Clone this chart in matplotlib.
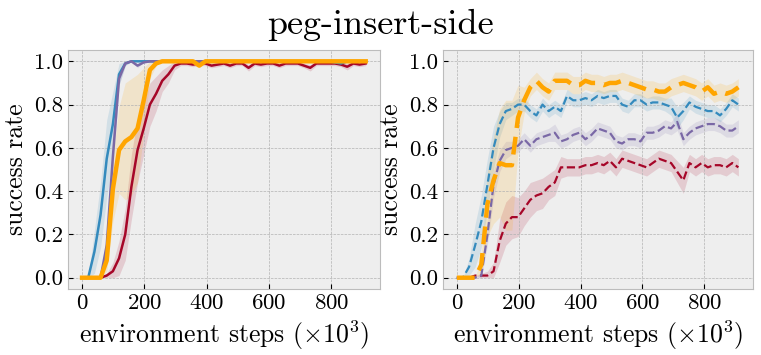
import numpy as np
import matplotlib
matplotlib.use("Agg")
import matplotlib.pyplot as plt

# environment steps (x1e3), 47 evaluation points
steps = np.linspace(0, 910, 47)

# --- left panel: solid curves (mean, std) ---
left_blue = [0, 0, 0.12, 0.29, 0.55, 0.71, 0.94, 0.99, 1.0, 1.0,
             1.0, 1.0, 1.0, 1.0, 1.0, 1.0, 1.0, 1.0, 1.0, 1.0,
             1.0, 1.0, 1.0, 1.0, 1.0, 1.0, 1.0, 1.0, 1.0, 1.0,
             1.0, 1.0, 1.0, 1.0, 1.0, 1.0, 1.0, 1.0, 1.0, 1.0,
             1.0, 0.995, 0.99, 1.0, 1.0, 1.0, 1.0]
left_blue_std = [0, 0, 0.1, 0.15, 0.18, 0.15, 0.05, 0.01, 0, 0,
                 0, 0, 0, 0, 0, 0, 0, 0, 0, 0,
                 0, 0, 0, 0, 0, 0, 0, 0, 0, 0,
                 0, 0, 0, 0, 0, 0, 0, 0, 0, 0,
                 0, 0.005, 0.01, 0, 0, 0, 0]
left_purple = [0, 0, 0, 0, 0.15, 0.56, 0.92, 0.99, 1.0, 0.98,
               0.995, 1.0, 1.0, 1.0, 1.0, 1.0, 1.0, 1.0, 1.0, 1.0,
               1.0, 1.0, 1.0, 1.0, 1.0, 1.0, 1.0, 1.0, 1.0, 1.0,
               1.0, 1.0, 1.0, 1.0, 1.0, 1.0, 1.0, 1.0, 1.0, 1.0,
               1.0, 1.0, 1.0, 1.0, 1.0, 1.0, 1.0]
left_purple_std = [0, 0, 0, 0, 0.05, 0.05, 0.03, 0.01, 0, 0.01,
                   0, 0, 0, 0, 0, 0, 0, 0, 0, 0,
                   0, 0, 0, 0, 0, 0, 0, 0, 0, 0,
                   0, 0, 0, 0, 0, 0, 0, 0, 0, 0,
                   0, 0, 0, 0, 0, 0, 0]
left_red = [0, 0, 0, 0, 0.01, 0.03, 0.09, 0.2, 0.42, 0.59,
            0.69, 0.8, 0.85, 0.91, 0.94, 0.98, 0.99, 0.99, 0.985, 0.99,
            0.99, 0.98, 0.985, 0.99, 0.98, 0.99, 0.99, 0.97, 0.99, 0.985,
            0.99, 0.99, 0.98, 0.99, 0.99, 0.99, 0.98, 0.97, 0.99, 0.99,
            0.99, 0.99, 0.985, 0.975, 0.99, 0.985, 0.99]
left_red_std = [0, 0, 0, 0, 0.01, 0.04, 0.08, 0.12, 0.15, 0.15,
                0.12, 0.1, 0.08, 0.05, 0.04, 0.02, 0.01, 0.01, 0.01, 0.01,
                0.01, 0.01, 0.01, 0.01, 0.01, 0.01, 0.01, 0.015, 0.01, 0.01,
                0.01, 0.01, 0.01, 0.01, 0.01, 0.01, 0.01, 0.015, 0.01, 0.01,
                0.01, 0.01, 0.01, 0.015, 0.01, 0.01, 0.01]
left_orange = [0, 0, 0, 0, 0.08, 0.41, 0.59, 0.63, 0.65, 0.69,
               0.82, 0.96, 0.99, 1.0, 1.0, 1.0, 1.0, 1.0, 1.0, 0.98,
               1.0, 1.0, 1.0, 1.0, 1.0, 1.0, 1.0, 1.0, 1.0, 1.0,
               1.0, 1.0, 1.0, 1.0, 1.0, 1.0, 1.0, 1.0, 1.0, 1.0,
               1.0, 1.0, 1.0, 1.0, 1.0, 1.0, 1.0]
left_orange_std = [0, 0, 0, 0, 0.05, 0.15, 0.2, 0.27, 0.27, 0.25,
                   0.15, 0.04, 0.01, 0, 0, 0, 0, 0, 0, 0.01,
                   0, 0, 0, 0, 0, 0, 0, 0, 0, 0,
                   0, 0, 0, 0, 0, 0, 0, 0, 0, 0,
                   0, 0, 0, 0, 0, 0, 0]

# --- right panel: dashed curves (mean, std) ---
right_orange = [0, 0, 0, 0, 0.06, 0.34, 0.45, 0.53, 0.52, 0.52,
                0.74, 0.82, 0.88, 0.91, 0.88, 0.86, 0.91, 0.91, 0.91, 0.89,
                0.89, 0.91, 0.90, 0.90, 0.89, 0.90, 0.90, 0.91, 0.90, 0.89,
                0.88, 0.87, 0.87, 0.86, 0.86, 0.88, 0.89, 0.90, 0.89, 0.88,
                0.86, 0.88, 0.85, 0.86, 0.85, 0.86, 0.88]
right_orange_std = [0, 0, 0, 0, 0.04, 0.15, 0.2, 0.25, 0.3, 0.3,
                    0.15, 0.06, 0.04, 0.04, 0.04, 0.04, 0.04, 0.04, 0.04, 0.04,
                    0.04, 0.04, 0.04, 0.04, 0.04, 0.04, 0.04, 0.04, 0.04, 0.04,
                    0.04, 0.04, 0.04, 0.04, 0.04, 0.04, 0.04, 0.04, 0.04, 0.04,
                    0.04, 0.04, 0.04, 0.04, 0.04, 0.04, 0.04]
right_blue = [0, 0, 0.05, 0.15, 0.26, 0.43, 0.6, 0.71, 0.77, 0.78,
              0.8, 0.8, 0.77, 0.75, 0.8, 0.77, 0.79, 0.77, 0.84, 0.82,
              0.82, 0.83, 0.82, 0.84, 0.83, 0.84, 0.84, 0.8, 0.79, 0.82,
              0.82, 0.8, 0.81, 0.81, 0.8, 0.79, 0.74, 0.77, 0.81, 0.79,
              0.78, 0.77, 0.77, 0.75, 0.78, 0.82, 0.80]
right_blue_std = [0, 0, 0.04, 0.1, 0.12, 0.12, 0.1, 0.06, 0.04, 0.03,
                  0.03, 0.03, 0.03, 0.03, 0.03, 0.03, 0.03, 0.03, 0.03, 0.03,
                  0.03, 0.03, 0.03, 0.03, 0.03, 0.03, 0.03, 0.03, 0.03, 0.03,
                  0.03, 0.03, 0.03, 0.03, 0.03, 0.04, 0.05, 0.04, 0.03, 0.03,
                  0.03, 0.03, 0.03, 0.03, 0.03, 0.03, 0.03]
right_purple = [0, 0, 0, 0, 0.01, 0.2, 0.43, 0.54, 0.59, 0.6,
                0.61, 0.64, 0.61, 0.64, 0.65, 0.66, 0.67, 0.63, 0.64, 0.66,
                0.67, 0.64, 0.66, 0.69, 0.68, 0.67, 0.63, 0.62, 0.64, 0.64,
                0.63, 0.67, 0.67, 0.68, 0.70, 0.69, 0.72, 0.64, 0.67, 0.69,
                0.70, 0.71, 0.71, 0.70, 0.68, 0.68, 0.70]
right_purple_std = [0, 0, 0, 0, 0.01, 0.05, 0.06, 0.05, 0.04, 0.03,
                    0.03, 0.03, 0.03, 0.03, 0.03, 0.03, 0.04, 0.03, 0.03, 0.03,
                    0.03, 0.03, 0.03, 0.03, 0.03, 0.03, 0.03, 0.03, 0.03, 0.03,
                    0.03, 0.03, 0.03, 0.03, 0.03, 0.03, 0.04, 0.03, 0.03, 0.03,
                    0.03, 0.03, 0.03, 0.03, 0.03, 0.03, 0.03]
right_red = [0, 0, 0, 0.01, 0.01, 0.01, 0.03, 0.17, 0.25, 0.28,
             0.28, 0.32, 0.36, 0.38, 0.39, 0.42, 0.44, 0.51, 0.51, 0.51,
             0.51, 0.52, 0.52, 0.53, 0.52, 0.54, 0.51, 0.55, 0.54, 0.53,
             0.52, 0.51, 0.53, 0.55, 0.54, 0.53, 0.49, 0.45, 0.53, 0.51,
             0.53, 0.51, 0.52, 0.52, 0.51, 0.53, 0.51]
right_red_std = [0, 0, 0, 0, 0.01, 0.02, 0.04, 0.1, 0.1, 0.1,
                 0.09, 0.08, 0.08, 0.07, 0.07, 0.06, 0.06, 0.05, 0.04, 0.04,
                 0.04, 0.04, 0.04, 0.04, 0.04, 0.04, 0.04, 0.04, 0.04, 0.04,
                 0.04, 0.04, 0.04, 0.04, 0.04, 0.04, 0.05, 0.06, 0.04, 0.04,
                 0.04, 0.04, 0.04, 0.04, 0.04, 0.04, 0.04]

BLUE, RED, PURPLE, ORANGE = "#348ABD", "#A60628", "#7A68A6", "#FFA500"

plt.style.use("bmh")
plt.rcParams["font.family"] = "serif"
plt.rcParams["font.serif"] = ["cmr10", "DejaVu Serif"]
plt.rcParams["mathtext.fontset"] = "cm"
plt.rcParams["axes.formatter.use_mathtext"] = True
plt.rcParams["axes.unicode_minus"] = False

fig = plt.figure(figsize=(7.61, 3.55), dpi=100)
ax1 = fig.add_axes([0.0894, 0.186, 0.41, 0.673])
ax2 = fig.add_axes([0.582, 0.186, 0.407, 0.673])


def band(ax, mean, std, color, **kw):
    mean = np.array(mean)
    std = np.array(std)
    ax.fill_between(steps, np.clip(mean - std, 0, 1), np.clip(mean + std, 0, 1),
                    color=color, alpha=0.15, lw=0)
    ax.plot(steps, mean, color=color, **kw)


band(ax1, left_red, left_red_std, RED, lw=1.8)
band(ax1, left_blue, left_blue_std, BLUE, lw=1.8)
band(ax1, left_purple, left_purple_std, PURPLE, lw=1.8)
band(ax1, left_orange, left_orange_std, ORANGE, lw=3.2)

band(ax2, right_red, right_red_std, RED, lw=1.6, ls="--")
band(ax2, right_purple, right_purple_std, PURPLE, lw=1.6, ls="--")
band(ax2, right_blue, right_blue_std, BLUE, lw=1.6, ls="--")
band(ax2, right_orange, right_orange_std, ORANGE, lw=3.2, ls=(0, (4, 2)))

for ax in (ax1, ax2):
    ax.set_xlim(-45, 956)
    ax.set_ylim(-0.052, 1.052)
    ax.set_xticks([0, 200, 400, 600, 800])
    ax.set_yticks([0.0, 0.2, 0.4, 0.6, 0.8, 1.0])
    ax.set_yticklabels(["0.0", "0.2", "0.4", "0.6", "0.8", "1.0"])
    ax.tick_params(labelsize=16.5)
    ax.set_xlabel(r"environment steps $(\times 10^3)$", fontsize=18.5)
    ax.set_ylabel("success rate", fontsize=18.5)

fig.suptitle("peg-insert-side", fontsize=26, y=0.975)
fig.savefig("out.png", dpi=100)
